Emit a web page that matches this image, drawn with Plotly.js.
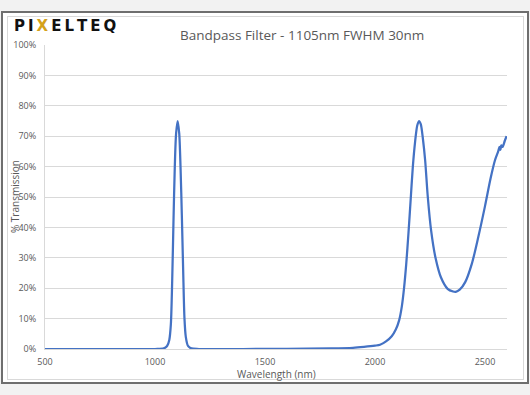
<!DOCTYPE html>
<html>
<head>
<meta charset="utf-8">
<script src="https://cdn.plot.ly/plotly-3.0.1.min.js"></script>
<style>
html,body{margin:0;padding:0;background:#f2f2f2;width:530px;height:395px;overflow:hidden;}
#frame{position:absolute;left:1px;top:11px;width:524px;height:369px;border:2px solid #6e6e6e;background:#fff;}
#inner{position:absolute;left:4px;top:3px;width:515px;height:362px;border:1px solid #d9d9d9;}
#chart{position:absolute;left:0;top:0;width:530px;height:395px;}
</style>
</head>
<body>
<div id="frame"><div id="inner"></div></div>
<div id="chart"></div>
<script>
// Wavelength (nm)
const wavelength = [500, 800, 1000, 1040, 1055, 1065, 1072, 1078, 1084, 1090, 1096, 1103, 1110, 1116, 1122, 1128, 1134, 1140, 1150, 1165, 1200, 1400, 1600, 1800, 1900, 1950, 2000, 2023, 2050, 2076, 2095, 2110, 2122, 2132, 2142, 2152, 2162, 2172, 2182, 2192, 2200, 2208, 2218, 2228, 2240, 2255, 2275, 2300, 2330, 2355, 2367, 2385, 2410, 2440, 2470, 2500, 2525, 2545, 2560, 2566, 2570, 2574, 2580, 2590, 2598];
// % Transmission
const transmission = [0, 0, 0, 0.2, 1, 3, 8, 22, 42, 60, 71, 75, 71, 60, 44, 26, 10, 4, 1, 0.2, 0, 0, 0.05, 0.2, 0.4, 0.7, 1.1, 1.4, 2.5, 4.2, 6.5, 9.5, 14, 20, 28, 38, 49, 60, 68, 73.5, 75, 74, 69, 62, 50, 39, 30, 23.5, 19.8, 18.9, 18.8, 19.5, 22, 28, 37, 47, 56, 62, 65, 66.5, 65.5, 67, 66.5, 68.5, 70];
const yTickVals = [0, 10, 20, 30, 40, 50, 60, 70, 80, 90, 100];
const yTickText = ['0%', '10%', '20%', '30%', '40%', '50%', '60%', '70%', '80%', '90%', '100%'];
const xTickVals = [500, 1000, 1500, 2000, 2500];
const chartTitle = 'Bandpass Filter - 1105nm FWHM 30nm';
const xTitle = 'Wavelength (nm)';
const yTitle = '% Transmission';

const L = 45, R = 507, T = 45, B = 349;
const W = 530, H = 395;
const pw = R - L, ph = B - T;
const px = (x) => (x - L) / pw;
const py = (y) => (B - y) / ph;

const trace = {
  x: wavelength, y: transmission, type: 'scatter', mode: 'lines',
  line: {color: '#4472c4', width: 2.25, shape: 'spline', smoothing: 0.8},
  hoverinfo: 'skip'
};

const font = "Open Sans, Liberation Sans, sans-serif";
const ts = '\u2009';
const logo = '<b>P' + ts + 'I' + ts + '<span style="color:#d4a11a">X</span>' + ts + 'E' + ts + 'L' + ts + 'T' + ts + 'E' + ts + 'Q</b>';
const layout = {
  width: W, height: H,
  margin: {l: L, r: W - R, t: T, b: H - B, pad: 0},
  paper_bgcolor: 'rgba(0,0,0,0)', plot_bgcolor: 'rgba(0,0,0,0)',
  showlegend: false,
  font: {family: font, color: '#595959', size: 9},
  xaxis: {
    range: [500, 2600], tickvals: xTickVals, ticks: '', showgrid: false,
    showline: true, linecolor: '#d9d9d9', linewidth: 1, zeroline: false,
    tickfont: {size: 9, color: '#595959'}, ticklabelstandoff: 4
  },
  yaxis: {
    range: [0, 100], tickvals: yTickVals, ticktext: yTickText, ticks: '',
    showgrid: true, gridcolor: '#d9d9d9', gridwidth: 1, zeroline: false,
    showline: true, linecolor: '#d9d9d9', linewidth: 1,
    tickfont: {size: 9, color: '#595959'}, ticklabelstandoff: 6
  },
  annotations: [
    {text: chartTitle, xref: 'paper', yref: 'paper', x: px(302), y: py(35),
     xanchor: 'center', yanchor: 'middle', showarrow: false,
     font: {family: font, size: 13.5, color: '#595959'}},
    {text: xTitle, xref: 'paper', yref: 'paper', x: px(276), y: py(374),
     xanchor: 'center', yanchor: 'middle', showarrow: false,
     font: {family: font, size: 10, color: '#595959'}},
    {text: yTitle, xref: 'paper', yref: 'paper', x: px(15), y: py(197),
     xanchor: 'center', yanchor: 'middle', showarrow: false, textangle: -90,
     font: {family: font, size: 10, color: '#595959'}},
    {text: logo, xref: 'paper', yref: 'paper',
     x: px(12), y: py(26), xanchor: 'left', yanchor: 'middle', showarrow: false,
     font: {family: 'DejaVu Sans, sans-serif', size: 15, color: '#111'}}
  ]
};

Plotly.newPlot('chart', [trace], layout, {displayModeBar: false, staticPlot: true});
</script>
</body>
</html>
